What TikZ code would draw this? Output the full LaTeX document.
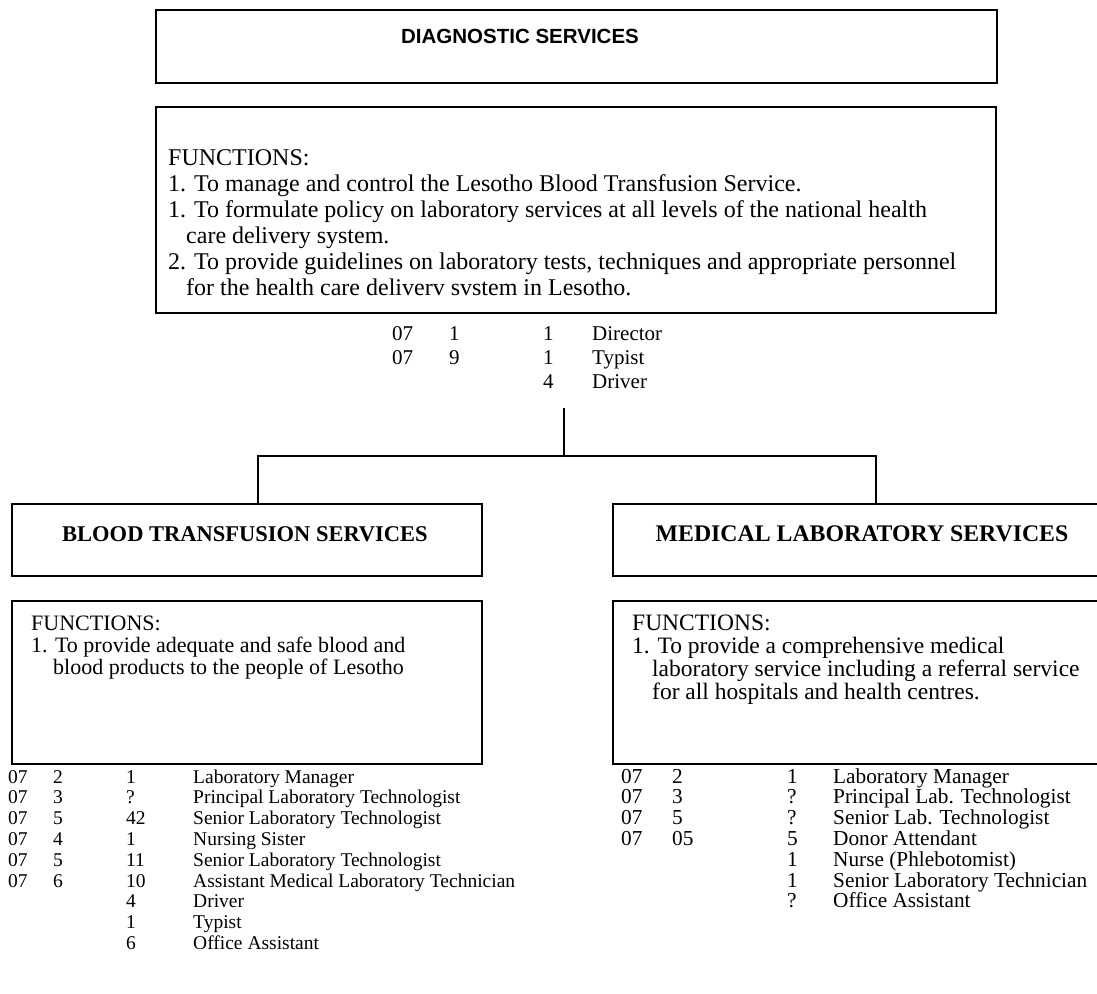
\documentclass[tikz,border=0pt]{standalone}
\usepackage{fontspec}
\setmainfont{Liberation Serif}
\newfontfamily\headsans{Liberation Sans}
\begin{document}
\begin{tikzpicture}[x=1pt,y=-1pt,
  frame/.style={draw, line width=2pt, inner sep=0pt, anchor=north west},
  link/.style={draw, line width=2pt},
  line/.style={inner sep=0pt, anchor=base west},
  topfn/.style={line, font=\fontsize{24}{26}\selectfont},
  bloodfont/.style={line, font=\fontsize{22}{23}\selectfont},
  medfont/.style={line, font=\fontsize{23.5}{25}\selectfont},
  topstaff/.style={line, font=\fontsize{21}{24}\selectfont},
  staff/.style={line, font=\fontsize{19.5}{21}\selectfont},
  medstaff/.style={line, font=\fontsize{21.3}{22}\selectfont},
  unithead/.style={inner sep=0pt, anchor=base, font=\bfseries\fontsize{22.5}{26}\selectfont},
]
\useasboundingbox (0,0) rectangle (1097,993);
\clip (0,0) rectangle (1097,993);

% ---- directorate ----
\node[frame, minimum width=841pt, minimum height=73pt] (diag) at (155,9) {};
\node[inner sep=0pt, anchor=base, font=\headsans\bfseries\fontsize{20.5}{24}\selectfont] (diagtitle) at (520,43) {DIAGNOSTIC SERVICES};

\node[frame, minimum width=840pt, minimum height=206pt] (diagfn) at (155,106) {};
\node[topfn] (d1) at (168,165) {FUNCTIONS:};
\node[topfn] (d2) at (168,191) {1. To manage and control the Lesotho Blood Transfusion Service.};
\node[topfn] (d3) at (168,217) {1. To formulate policy on laboratory services at all levels of the national health};
\node[topfn] (d4) at (186,243) {care delivery system.};
\node[topfn] (d5) at (168,269) {2. To provide guidelines on laboratory tests, techniques and appropriate personnel};
\node[topfn] (d6) at (186,295) {for the health care deliverv svstem in Lesotho.};

% directorate staff
\foreach \g/\c/\n/\t [count=\i] in {07/1/1/Director, 07/9/1/Typist, /\ /4/Driver}{
  \pgfmathsetmacro{\yy}{340+24*(\i-1)}
  \node[topstaff] (ds\i a) at (392,\yy) {\g};
  \node[topstaff] (ds\i b) at (449,\yy) {\c};
  \node[topstaff] (ds\i c) at (543,\yy) {\n};
  \node[topstaff] (ds\i d) at (592,\yy) {\t};
}

% ---- units ----
\node[frame, minimum width=470pt, minimum height=72pt] (blood) at (11,503) {};
\node[unithead] (bloodtitle) at (245,541) {BLOOD TRANSFUSION SERVICES};
\node[frame, minimum width=500pt, minimum height=72pt] (medlab) at (612,503) {};
\node[unithead, font=\bfseries\fontsize{23.8}{27}\selectfont] (medtitle) at (862,541) {MEDICAL LABORATORY SERVICES};

% connectors
\coordinate (stem) at (564,408);
\coordinate (junction) at (564,456);
\coordinate (bloodtop) at (258,503);
\coordinate (medtop) at (876,503);
\draw[link] (stem) -- (junction);
\draw[link] (bloodtop) -- ++(0,-47) -| (medtop);

% unit functions
\node[frame, minimum width=470pt, minimum height=163pt] (bloodfn) at (11,600) {};
\node[bloodfont] (b1) at (31,630) {FUNCTIONS:};
\node[bloodfont] (b2) at (31,652) {1. To provide adequate and safe blood and};
\node[bloodfont] (b3) at (53,674) {blood products to the people of Lesotho};

\node[frame, minimum width=500pt, minimum height=163pt] (medfn) at (612,600) {};
\node[medfont] (m1) at (632,630) {FUNCTIONS:};
\node[medfont] (m2) at (632,653) {1. To provide a comprehensive medical};
\node[medfont] (m3) at (652,676) {laboratory service including a referral service};
\node[medfont] (m4) at (652,699) {for all hospitals and health centres.};

% blood transfusion staff
\foreach \g/\c/\n/\t [count=\i] in {
  07/2/1/Laboratory Manager,
  07/3/?/Principal Laboratory Technologist,
  07/5/42/Senior Laboratory Technologist,
  07/4/1/Nursing Sister,
  07/5/11/Senior Laboratory Technologist,
  07/6/10/Assistant Medical Laboratory Technician,
  /\ /4/Driver,
  /\ /1/Typist,
  /\ /6/Office Assistant}{
  \pgfmathsetmacro{\yy}{783+20.8*(\i-1)}
  \node[staff] (bs\i a) at (8,\yy) {\g};
  \node[staff] (bs\i b) at (53,\yy) {\c};
  \node[staff] (bs\i c) at (126,\yy) {\n};
  \node[staff] (bs\i d) at (193,\yy) {\t};
}

% medical laboratory staff
\foreach \g/\c/\n/\t [count=\i] in {
  07/2/1/Laboratory Manager,
  07/3/?/Principal Lab. Technologist,
  07/5/?/Senior Lab. Technologist,
  07/05/5/Donor Attendant,
  /\ /1/Nurse (Phlebotomist),
  /\ /1/Senior Laboratory Technician,
  /\ /?/Office Assistant}{
  \pgfmathsetmacro{\yy}{783+20.8*(\i-1)}
  \node[medstaff] (ms\i a) at (621,\yy) {\g};
  \node[medstaff] (ms\i b) at (672,\yy) {\c};
  \node[medstaff] (ms\i c) at (787,\yy) {\n};
  \node[medstaff] (ms\i d) at (833,\yy) {\t};
}
\end{tikzpicture}
\end{document}
